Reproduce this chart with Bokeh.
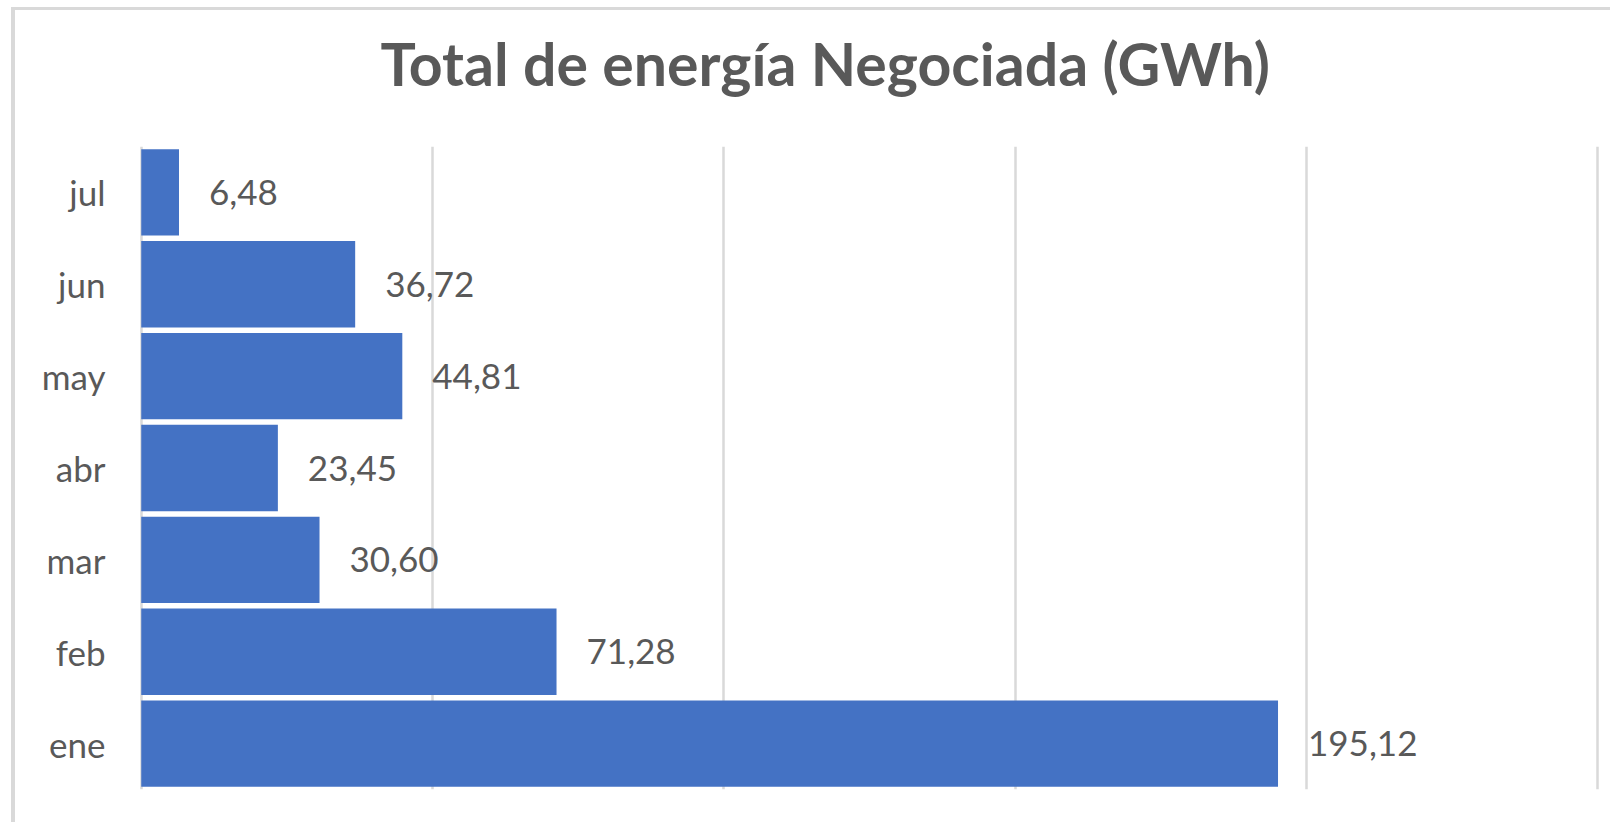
from bokeh.plotting import figure
from bokeh.models import ColumnDataSource, FactorRange, Range1d, FixedTicker, InlineStyleSheet, Title
from bokeh.core.properties import value
from bokeh.embed import file_html
from bokeh.resources import INLINE

months = ["ene", "feb", "mar", "abr", "may", "jun", "jul"]
energy = [195.12, 71.28, 30.60, 23.45, 44.81, 36.72, 6.48]
labels = ["195,12", "71,28", "30,60", "23,45", "44,81", "36,72", "6,48"]
x_ticks = [0, 50, 100, 150, 200, 250]
title_text = "Total de energía Negociada (GWh)"

FONT = "Lato"
GRAY = "#595959"
W, H = 1610, 822

src = ColumnDataSource(dict(month=months, energy=energy, label=labels))

p = figure(
    width=W, height=H,
    y_range=FactorRange(factors=months, range_padding=0),
    x_range=Range1d(-0.3, 250.3),
    output_backend="svg", toolbar_location=None,
    min_border_left=139, min_border_right=W - 1599, min_border_top=10, min_border_bottom=H - 789,
)
p.border_fill_color = None
p.background_fill_color = "white"
p.outline_line_color = None
p.stylesheets = [InlineStyleSheet(css=(
    ":host { background: "
    "linear-gradient(#d9d9d9,#d9d9d9) 11px 7px / 4px 100% no-repeat, "
    "linear-gradient(#d9d9d9,#d9d9d9) 11px 7px / 100% 3px no-repeat, #ffffff; }"
))]

# spacer between title and plot area
p.add_layout(Title(text=" ", text_font_size="16px", standoff=0), "above")

p.title.text = title_text
p.title.align = "left"
p.title.offset = 241
p.title.vertical_align = "top"
p.title.standoff = 54
p.title.text_font = FONT
p.title.text_font_style = "bold"
p.title.text_font_size = "59px"
p.title.text_color = GRAY

p.hbar(y="month", right="energy", left=0, height=0.94, source=src,
       fill_color="#4472C4", line_color=None)

p.text(x="energy", y="month", text="label", source=src,
       x_offset=30, text_baseline="middle", text_align="left",
       text_font=value(FONT), text_font_size="35px", text_color=GRAY)

p.xaxis.visible = False
p.xaxis.ticker = FixedTicker(ticks=x_ticks)
p.xgrid.ticker = FixedTicker(ticks=x_ticks)
p.xgrid.grid_line_color = "#d9d9d9"
p.xgrid.grid_line_width = 2.5
p.ygrid.grid_line_color = None

ya = p.yaxis[0]
ya.axis_line_color = None
ya.major_tick_line_color = None
ya.minor_tick_line_color = None
ya.major_tick_out = 0
ya.major_label_standoff = 34
ya.major_label_text_font = FONT
ya.major_label_text_font_size = "35px"
ya.major_label_text_color = GRAY

open("out.html", "w").write(file_html(p, INLINE))
